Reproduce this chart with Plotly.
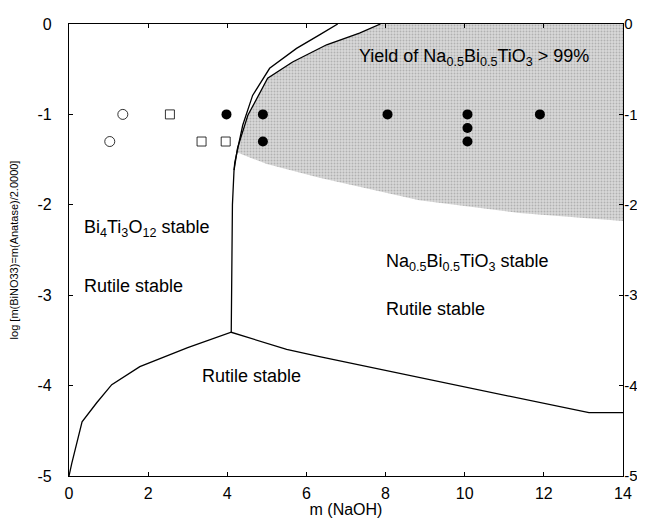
import plotly.graph_objects as go

# ---- data ----
vert_x = [4.10, 4.11, 4.13, 4.17]
vert_y = [-3.41, -2.5, -2.0, -1.62]
outer_x = [4.17, 4.19, 4.39, 4.64, 5.07, 5.75, 6.33, 6.79]
outer_y = [-1.62, -1.53, -1.12, -0.79, -0.49, -0.27, -0.12, 0.0]
inner_x = [4.17, 4.26, 4.52, 5.02, 5.65, 6.51, 7.34, 7.87]
inner_y = [-1.62, -1.37, -1.01, -0.60, -0.42, -0.23, -0.10, 0.0]
rut_x = [0.0, 0.07, 0.33, 0.70, 1.08, 1.79, 3.0, 4.10, 5.5, 6.33, 13.14, 14.0]
rut_y = [-5.0, -4.86, -4.40, -4.19, -3.99, -3.79, -3.58, -3.41, -3.60, -3.68, -4.30, -4.30]
yield_low_x = [4.24, 5.0, 6.33, 8.85, 11.38, 14.0]
yield_low_y = [-1.42, -1.55, -1.70, -1.95, -2.09, -2.18]

open_circ_x = [1.36, 1.03]
open_circ_y = [-1.0, -1.3]
open_sq_x = [2.55, 3.35, 3.96]
open_sq_y = [-1.0, -1.3, -1.3]
filled_x = [3.98, 4.9, 4.9, 8.05, 10.07, 10.07, 10.07, 11.9]
filled_y = [-1.0, -1.0, -1.3, -1.0, -1.0, -1.15, -1.3, -1.0]

x_ticks = [0, 2, 4, 6, 8, 10, 12, 14]
y_ticks = [0, -1, -2, -3, -4, -5]
y_ticktext = ["0", "-1", "-2", "-3", "-4", "-5"]

FONT = "Liberation Sans, Arial, sans-serif"

fig = go.Figure()

shade_x = inner_x[1:] + [14.0] + yield_low_x[::-1] + [inner_x[1]]
shade_y = inner_y[1:] + [0.0] + yield_low_y[::-1] + [inner_y[1]]
fig.add_trace(go.Scatter(
    x=shade_x, y=shade_y, mode="lines", fill="toself",
    fillcolor="#d2d2d2", line=dict(width=0),
    fillpattern=dict(shape=".", bgcolor="#d9d9d9", fgcolor="#8a8a8a", size=3, solidity=0.35),
    hoverinfo="skip", showlegend=False))

line_style = dict(color="black", width=1.3)
for xs, ys in [(vert_x, vert_y), (outer_x, outer_y), (inner_x, inner_y), (rut_x, rut_y)]:
    fig.add_trace(go.Scatter(x=xs, y=ys, mode="lines", line=line_style,
                             showlegend=False, hoverinfo="skip"))

fig.add_trace(go.Scatter(x=open_circ_x, y=open_circ_y, mode="markers",
                         marker=dict(symbol="circle-open", size=10, color="black", line=dict(width=0.8)),
                         showlegend=False))
fig.add_trace(go.Scatter(x=open_sq_x, y=open_sq_y, mode="markers",
                         marker=dict(symbol="square-open", size=9, color="black", line=dict(width=0.8)),
                         showlegend=False))
fig.add_trace(go.Scatter(x=filled_x, y=filled_y, mode="markers",
                         marker=dict(symbol="circle", size=10, color="black"),
                         showlegend=False))
fig.add_trace(go.Scatter(x=[0], y=[0], yaxis="y2", mode="markers",
                         marker=dict(opacity=0), showlegend=False, hoverinfo="skip"))

labels = [
    (7.29, -0.365, "Yield of Na<sub>0.5</sub>Bi<sub>0.5</sub>TiO<sub>3</sub> &gt; 99%"),
    (0.33, -2.26, "Bi<sub>4</sub>Ti<sub>3</sub>O<sub>12</sub> stable"),
    (0.33, -2.90, "Rutile stable"),
    (3.30, -3.89, "Rutile stable"),
    (7.97, -2.64, "Na<sub>0.5</sub>Bi<sub>0.5</sub>TiO<sub>3</sub> stable"),
    (7.97, -3.15, "Rutile stable"),
]
for lx, ly, txt in labels:
    fig.add_annotation(x=lx, y=ly, text=txt, showarrow=False, xanchor="left",
                       yanchor="middle", font=dict(family=FONT, size=18, color="black"))

axis_common = dict(showgrid=False, zeroline=False, showline=True, linecolor="black",
                   linewidth=1.3, ticks="inside", ticklen=4, tickcolor="black",
                   automargin=False)
tickfont = dict(family=FONT, size=16, color="black")

# page body has an 8px margin, so the figure is sized/placed to compensate
fig.update_layout(
    width=637, height=510,
    margin=dict(l=61, r=22, t=16, b=42),
    paper_bgcolor="white", plot_bgcolor="white",
    xaxis=dict(range=[0, 14], tickvals=x_ticks, mirror="ticks", ticklabelstandoff=3,
               tickfont=tickfont,
               title=dict(text="m (NaOH)", font=dict(family=FONT, size=16, color="black"), standoff=0),
               **axis_common),
    yaxis=dict(range=[-5, 0], tickvals=y_ticks, ticktext=y_ticktext, mirror="ticks",
               ticklabelstandoff=13, tickfont=tickfont,
               title=dict(text="log [m(BiNO33)=m(Anatase)/2.0000]",
                          font=dict(family=FONT, size=11, color="black"), standoff=22),
               **axis_common),
    yaxis2=dict(range=[-5, 0], tickvals=y_ticks, ticktext=y_ticktext, overlaying="y", side="right",
                ticklabelstandoff=-3, tickfont=dict(family=FONT, size=15, color="black"),
                **axis_common),
)

fig.write_html("out.html")
